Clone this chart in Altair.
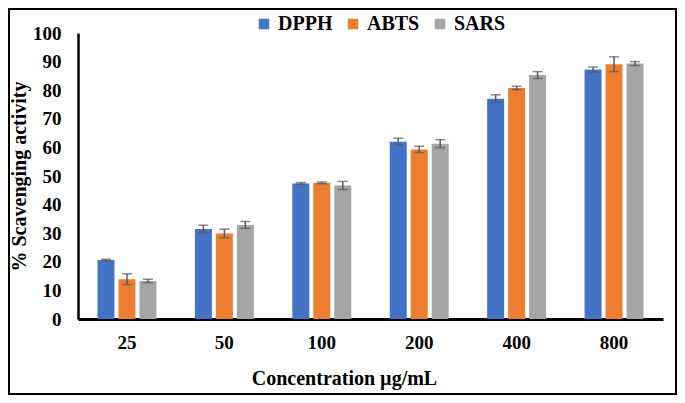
import altair as alt
import pandas as pd

concentrations = ["25", "50", "100", "200", "400", "800"]
series_names = ["DPPH", "ABTS", "SARS"]
dpph = [20.6, 31.5, 47.4, 62.0, 77.0, 87.2]
dpph_err = [0.3, 1.3, 0.3, 1.2, 1.4, 0.9]
abts = [13.9, 29.9, 47.6, 59.3, 80.8, 89.1]
abts_err = [1.9, 1.5, 0.3, 1.1, 0.6, 2.6]
sars = [13.3, 32.9, 46.7, 61.3, 85.3, 89.3]
sars_err = [0.6, 1.2, 1.4, 1.4, 1.2, 0.7]
colors = ["#4472C4", "#ED7D31", "#A5A5A5"]
y_ticks = [0, 10, 20, 30, 40, 50, 60, 70, 80, 90, 100]

rows = []
for name, vals, errs in zip(series_names, [dpph, abts, sars], [dpph_err, abts_err, sars_err]):
    for c, v, e in zip(concentrations, vals, errs):
        rows.append({"conc": c, "series": name, "value": v, "lo": v - e, "hi": v + e})
df = pd.DataFrame(rows)

FONT = "Liberation Serif"
W, H = 585, 286

x_axis = alt.Axis(title="Concentration µg/mL", labelAngle=0, ticks=False,
                  domainColor="black", domainWidth=3, labelPadding=14,
                  titleX=266, titleY=59, titleBaseline="middle", titleAlign="center",
                  titleAnchor="start")
y_axis = alt.Axis(title="% Scavenging activity", values=y_ticks, tickCount=len(y_ticks) + 1,
                  labelOverlap=False, grid=False, ticks=False, domainColor="black", domainWidth=2.5,
                  labelPadding=17, titleAngle=270, titleX=-59, titleY=H / 2,
                  titleBaseline="middle", titleAlign="center", titleAnchor="start")
y_scale = alt.Scale(domain=[0, 100], nice=False)
x_scale = alt.Scale(paddingInner=0.395, paddingOuter=0.2)

x_enc = alt.X("conc:N", sort=concentrations, scale=x_scale, axis=x_axis)
xoff = alt.XOffset("series:N", sort=series_names, scale=alt.Scale(paddingInner=0.19, paddingOuter=0))

base = alt.Chart(df)

bars = base.mark_bar().encode(
    x=x_enc,
    xOffset=xoff,
    y=alt.Y("value:Q", scale=y_scale, axis=y_axis),
    color=alt.Color("series:N", sort=series_names,
                    scale=alt.Scale(domain=series_names, range=colors),
                    legend=alt.Legend(title=None, orient="none", direction="horizontal",
                                      legendX=176, legendY=-19, symbolType="square",
                                      symbolSize=110, symbolStrokeWidth=0, columnPadding=10,
                                      labelFont=FONT, labelFontSize=20, labelFontWeight="bold",
                                      labelOffset=4, labelColor="black")),
)

rules = base.mark_rule(color="#595959", strokeWidth=1.5).encode(
    x=x_enc,
    xOffset=xoff,
    y=alt.Y("lo:Q", scale=y_scale, axis=y_axis),
    y2="hi:Q",
)

caps_lo = base.mark_tick(color="#595959", thickness=1.5, size=10, orient="horizontal").encode(
    x=x_enc, xOffset=xoff, y=alt.Y("lo:Q", scale=y_scale, axis=y_axis))
caps_hi = base.mark_tick(color="#595959", thickness=1.5, size=10, orient="horizontal").encode(
    x=x_enc, xOffset=xoff, y=alt.Y("hi:Q", scale=y_scale, axis=y_axis))

frame = alt.Chart(pd.DataFrame({"a": [0]})).mark_rect(
    fill=None, stroke="black", strokeWidth=2, clip=False
).encode(
    x=alt.value(-69), x2=alt.value(598), y=alt.value(-24), y2=alt.value(361)
)

chart = alt.layer(bars, rules, caps_lo, caps_hi, frame).properties(
    width=W, height=H,
    autosize=alt.AutoSizeParams(type="none"),
    padding={"left": 70, "top": 25, "right": 14, "bottom": 76},
).configure_view(stroke=None).configure_axis(
    labelFont=FONT, labelFontSize=19, labelFontWeight="bold", labelColor="black",
    titleFont=FONT, titleFontSize=20, titleFontWeight="bold", titleColor="black",
)

chart.save("out.html", embed_options={"renderer": "svg", "actions": False})
